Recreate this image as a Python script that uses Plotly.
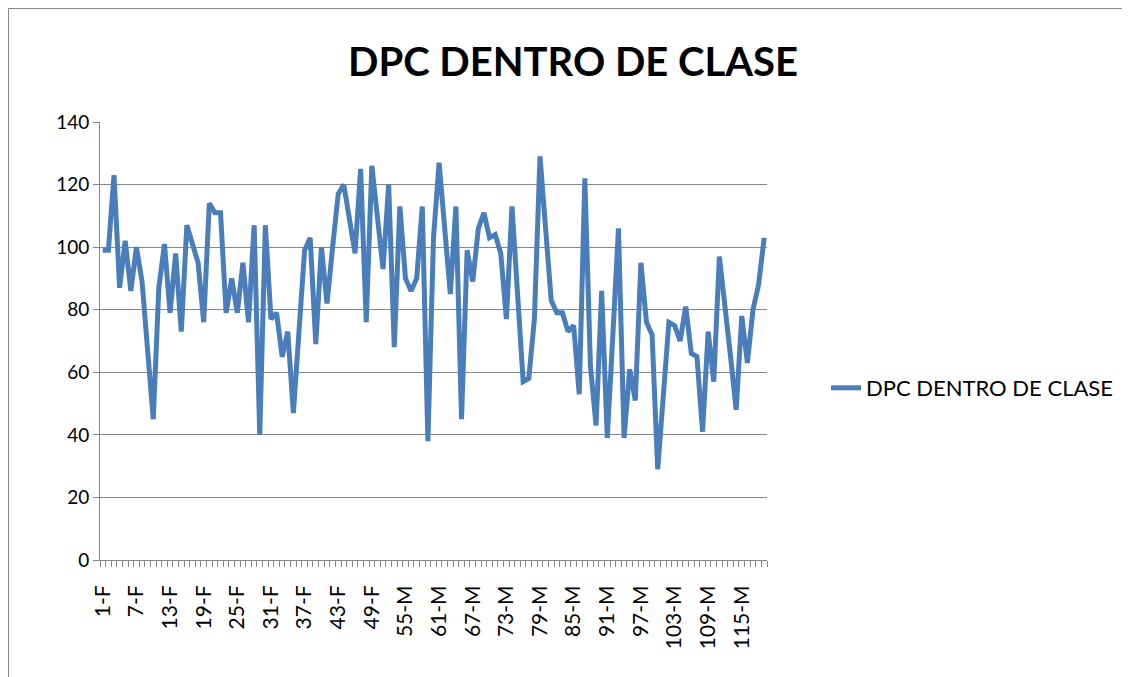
import plotly.graph_objects as go

series_name = "DPC DENTRO DE CLASE"
values = [99, 99, 123, 87, 102, 86, 100, 89, 67, 45,
          87, 101, 79, 98, 73, 107, 101, 95, 76, 114,
          111, 111, 79, 90, 79, 95, 76, 107, 40, 107,
          77, 79, 65, 73, 47, 74, 99, 103, 69, 100,
          82, 100, 117, 120, 109, 98, 125, 76, 126, 110,
          93, 120, 68, 113, 90, 86, 90, 113, 38, 103,
          127, 106, 85, 113, 45, 99, 89, 106, 111, 103,
          104, 98, 77, 113, 85, 57, 58, 77, 129, 106,
          83, 79, 79, 73, 75, 53, 122, 62, 43, 86,
          39, 72, 106, 39, 61, 51, 95, 76, 72, 29,
          53, 76, 75, 70, 81, 66, 65, 41, 73, 57,
          97, 82, 65, 48, 78, 63, 80, 88, 103]
n_female = 52
categories = [f"{i}-F" if i <= n_female else f"{i}-M" for i in range(1, len(values) + 1)]
label_step = 6
y_ticks = [0, 20, 40, 60, 80, 100, 120, 140]

positions = list(range(1, len(categories) + 1))
tick_pos = positions[::label_step]
tick_txt = categories[::label_step]

GRID = "#878787"
FONT = "Lato, 'Open Sans', sans-serif"

# page body has an 8px margin, so the figure is laid out 8px smaller/shifted
W, H = 1122, 669
L, R, T, B = 92, 363, 114, 117
PW, PH = W - L - R, H - T - B

fig = go.Figure()
fig.add_trace(go.Scatter(
    x=positions, y=values, mode="lines", name=series_name,
    line=dict(color="#4A7EBB", width=5),
    customdata=categories,
    hovertemplate="%{customdata}: %{y}<extra></extra>",
))

fig.update_layout(
    width=W, height=H,
    margin=dict(l=L, r=R, t=T, b=B),
    paper_bgcolor="white", plot_bgcolor="white",
    font=dict(family=FONT, color="#000000"),
    title=dict(text="<b>DPC DENTRO DE CLASE</b>", x=(573 - 8) / W, xanchor="center",
               y=1 - (62 - 8) / H, yanchor="middle", font=dict(size=40, family=FONT, color="#000000")),
    showlegend=True,
    legend=dict(x=(818 - L) / PW, xanchor="left", y=(H - B - (388 - 8)) / PH, yanchor="middle",
                font=dict(size=22, family=FONT, color="#000000"),
                bgcolor="rgba(0,0,0,0)"),
    xaxis=dict(
        range=[0.5, len(categories) + 0.5],
        tickmode="array", tickvals=tick_pos, ticktext=tick_txt,
        tickangle=-90, ticks="", showgrid=False, zeroline=False,
        showline=True, linecolor=GRID, linewidth=1,
        ticklabelstandoff=16,
        tickfont=dict(size=21, family=FONT, color="#000000"),
        minor=dict(ticks="outside", ticklen=6, tickcolor=GRID, tick0=0.5, dtick=1, showgrid=False),
    ),
    yaxis=dict(
        range=[0, 140], tickmode="array", tickvals=y_ticks,
        showgrid=True, gridcolor=GRID, gridwidth=1, zeroline=False,
        showline=True, linecolor=GRID, linewidth=1,
        ticks="outside", ticklen=6, tickcolor=GRID,
        tickfont=dict(size=19, family=FONT, color="#000000"),
    ),
    shapes=[dict(type="rect", xref="paper", yref="paper",
                 x0=(0.5 - L) / PW, x1=(W + 20 - L) / PW,
                 y0=-(B + 20) / PH, y1=(PH + T - 0.5) / PH,
                 line=dict(color=GRID, width=1), fillcolor="rgba(0,0,0,0)", layer="below")],
)

fig.write_html("out.html")
